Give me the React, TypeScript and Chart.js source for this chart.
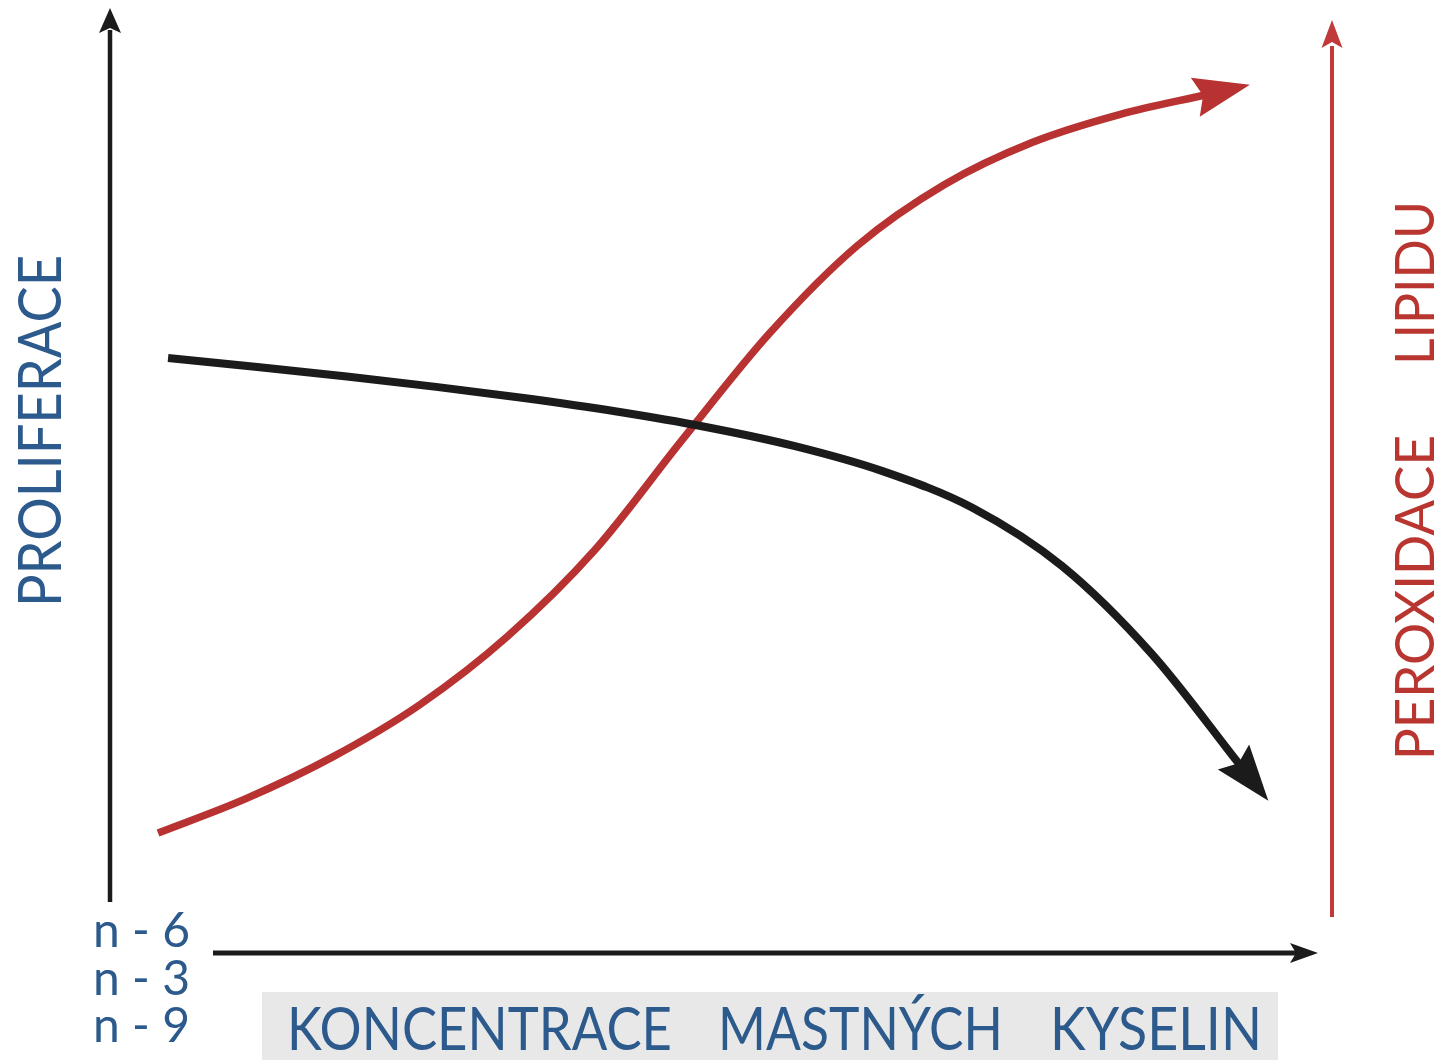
import React, { useEffect, useRef } from "react";
import { Chart, registerables } from "chart.js";

Chart.register(...registerables);

// Schematic curves (x: concentration 0-100, y: response 0-100)
const proliferationX = [4.75, 12.06, 19.38, 26.69, 34.02, 41.33, 48.65, 55.97, 63.28, 70.61, 77.92, 85.24, 92.55];
const proliferationY = [63.23, 62.28, 61.26, 60.16, 58.95, 57.57, 55.93, 53.89, 51.18, 47.29, 41.11, 31.8, 19.83];
const peroxidationX = [3.93, 11.08, 18.23, 25.38, 32.54, 39.69, 46.84, 53.99, 61.15, 68.3, 75.45, 82.6, 89.77];
const peroxidationY = [12.75, 16.38, 20.84, 26.41, 33.66, 42.85, 54.55, 65.88, 75.16, 81.67, 86.13, 89.1, 91.23];

const fattyAcidLabels = ["n - 6", "n - 3", "n - 9"];
const xTitleWords = ["KONCENTRACE", "MASTNÝCH", "KYSELIN"];
const leftTitle = "PROLIFERACE";
const rightTitleWords = ["PEROXIDACE", "LIPIDU"];

const FONT = "Lato, 'Open Sans', 'DejaVu Sans', sans-serif";
const BLUE = "#2d5a8c";
const RED_TEXT = "#b93530";
const RED_LINE = "#b83232";
const RED_AXIS = "#c0393b";
const BLACK = "#1b1b1b";

function fitText(ctx: CanvasRenderingContext2D, text: string, x: number, y: number, targetW: number, size: number, rot: number, color: string) {
  ctx.save();
  ctx.font = `${size}px ${FONT}`;
  const w = ctx.measureText(text).width || 1;
  ctx.translate(x, y);
  if (rot) ctx.rotate(rot);
  ctx.scale(targetW / w, 1);
  ctx.textAlign = "left";
  ctx.textBaseline = "alphabetic";
  ctx.fillStyle = color;
  ctx.fillText(text, 0, 0);
  ctx.restore();
}

function arrowHead(ctx: CanvasRenderingContext2D, tipX: number, tipY: number, dx: number, dy: number, len: number, notch: number, halfW: number, color: string) {
  const px = -dy, py = dx;
  const bx = tipX - dx * len, by = tipY - dy * len;
  ctx.beginPath();
  ctx.moveTo(tipX, tipY);
  ctx.lineTo(bx + px * halfW, by + py * halfW);
  ctx.lineTo(tipX - dx * notch, tipY - dy * notch);
  ctx.lineTo(bx - px * halfW, by - py * halfW);
  ctx.closePath();
  ctx.fillStyle = color;
  ctx.fill();
}

function line(ctx: CanvasRenderingContext2D, x1: number, y1: number, x2: number, y2: number, w: number, color: string) {
  ctx.beginPath();
  ctx.moveTo(x1, y1);
  ctx.lineTo(x2, y2);
  ctx.lineWidth = w;
  ctx.strokeStyle = color;
  ctx.lineCap = "butt";
  ctx.stroke();
}

const decorPlugin = {
  id: "decor",
  afterDatasetsDraw(chart: any) {
    const ctx: CanvasRenderingContext2D = chart.ctx;
    const ca = chart.chartArea;
    ctx.save();

    // axes
    line(ctx, ca.left, ca.bottom - 51, ca.left, ca.top + 18, 4.5, BLACK);
    arrowHead(ctx, ca.left, ca.top - 4, 0, -1, 25, 20, 11, BLACK);

    line(ctx, ca.right, ca.bottom - 36, ca.right, ca.top + 34, 4, RED_AXIS);
    arrowHead(ctx, ca.right, ca.top + 8, 0, -1, 28, 22, 10.5, RED_AXIS);

    line(ctx, ca.left + 103, ca.bottom, ca.right - 34, ca.bottom, 5, BLACK);
    arrowHead(ctx, ca.right - 14, ca.bottom, 1, 0, 28, 22, 10, BLACK);

    // curve arrowheads
    const colors = [BLACK, RED_LINE];
    chart.data.datasets.forEach((_: any, i: number) => {
      const pts = chart.getDatasetMeta(i).data;
      const last = pts[pts.length - 1];
      const prev = pts[pts.length - 2];
      let dx = last.x - (last.cp1x ?? prev.x);
      let dy = last.y - (last.cp1y ?? prev.y);
      let m = Math.hypot(dx, dy);
      if (m < 0.5) {
        dx = last.x - prev.x;
        dy = last.y - prev.y;
        m = Math.hypot(dx, dy);
      }
      dx /= m; dy /= m;
      const tipX = last.x + dx * 44, tipY = last.y + dy * 44;
      arrowHead(ctx, tipX, tipY, dx, dy, 56, 48, 20, colors[i]);
    });

    // gray title box
    ctx.fillStyle = "#e8e8e8";
    ctx.fillRect(ca.left + 152, ca.bottom + 39, 1016, 70);

    // x title
    const xw = [385, 285, 212];
    const xs = [287, 718, 1050];
    xTitleWords.forEach((t, i) => fitText(ctx, t, xs[i], ca.bottom + 97, xw[i], 60, 0, BLUE));

    // fatty acid labels
    fattyAcidLabels.forEach((t, i) => fitText(ctx, t, 93, ca.bottom - 6 + i * 47.5, 97, 48, 0, BLUE));

    // left title
    fitText(ctx, leftTitle, 61, 607, 352, 60, -Math.PI / 2, BLUE);

    // right title
    fitText(ctx, rightTitleWords[0], 1434, 760, 325, 55, -Math.PI / 2, RED_TEXT);
    fitText(ctx, rightTitleWords[1], 1434, 365, 164, 55, -Math.PI / 2, RED_TEXT);

    ctx.restore();
  },
};

export default function App() {
  const ref = useRef<HTMLCanvasElement | null>(null);
  useEffect(() => {
    if (!ref.current) return;
    const chart = new Chart(ref.current, {
      type: "line",
      data: {
        datasets: [
          {
            label: "Proliferace",
            data: proliferationX.map((x, i) => ({ x, y: proliferationY[i] })),
            borderColor: BLACK,
            borderWidth: 8,
            pointRadius: 0,
            cubicInterpolationMode: "monotone",
            fill: false,
            clip: false as any,
          },
          {
            label: "Peroxidace lipidu",
            data: peroxidationX.map((x, i) => ({ x, y: peroxidationY[i] })),
            borderColor: RED_LINE,
            borderWidth: 7.5,
            pointRadius: 0,
            cubicInterpolationMode: "monotone",
            fill: false,
            clip: false as any,
          },
        ],
      },
      options: {
        animation: false,
        responsive: false,
        maintainAspectRatio: false,
        devicePixelRatio: 1,
        layout: { padding: { left: 110, right: 105, top: 12, bottom: 107 } },
        scales: {
          x: { type: "linear", min: 0, max: 100, display: false },
          y: { type: "linear", min: 0, max: 100, display: false },
        },
        plugins: { legend: { display: false }, tooltip: { enabled: false } },
      },
      plugins: [decorPlugin],
    });
    return () => chart.destroy();
  }, []);
  return (
    <div style={{ position: "absolute", left: 0, top: 0, width: 1437, height: 1060, background: "#fff" }}>
      <canvas ref={ref} width={1437} height={1060} style={{ display: "block" }} />
    </div>
  );
}
